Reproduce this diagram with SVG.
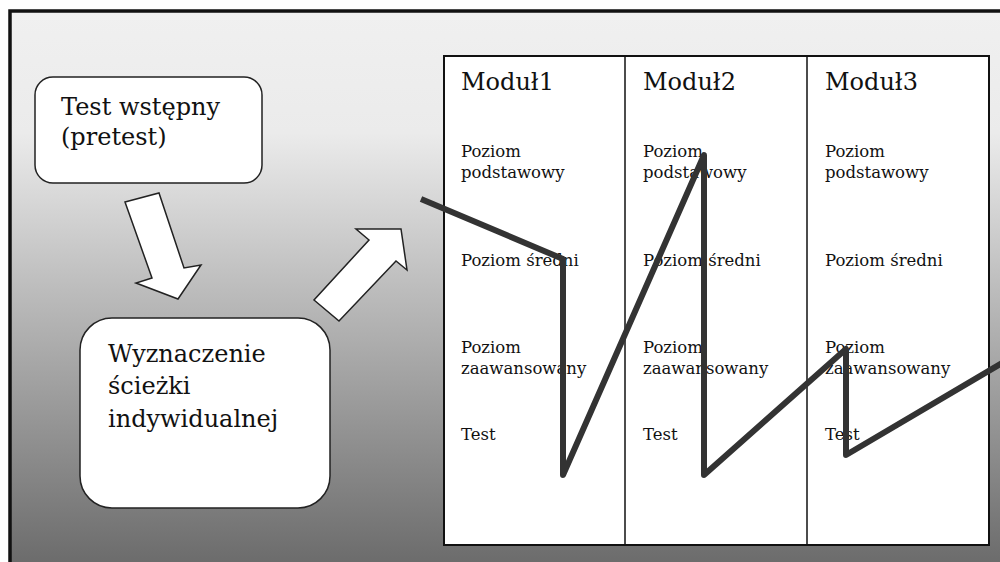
<svg xmlns="http://www.w3.org/2000/svg" width="1000" height="562" viewBox="0 0 1000 562">
<style>
.box{fill:#fff;stroke:#222;stroke-width:1.5}
.arr{fill:#fff;stroke:#222;stroke-width:1.5;stroke-linejoin:miter}
.big{font-family:"DejaVu Serif","Liberation Serif",serif;font-size:24px;fill:#111}
.sm{font-family:"DejaVu Serif","Liberation Serif",serif;font-size:16.5px;fill:#111}
.col{fill:none;stroke:#111;stroke-width:1.5}
.zig{fill:none;stroke:#333;stroke-width:6;stroke-linejoin:round;stroke-linecap:butt}
</style>
<defs>
<linearGradient id="bg" x1="0" y1="12" x2="0" y2="562" gradientUnits="userSpaceOnUse">
<stop offset="0" stop-color="#f0f0f0"/>
<stop offset="0.22" stop-color="#ebebeb"/>
<stop offset="0.5" stop-color="#bdbdbd"/>
<stop offset="1" stop-color="#6c6c6c"/>
</linearGradient>
</defs>
<rect x="0" y="0" width="1000" height="562" fill="#fff"/>
<rect x="10" y="11" width="995" height="560" fill="url(#bg)"/>
<path d="M10,562 V11 H1000" fill="none" stroke="#111" stroke-width="3.5"/>

<g id="pretest">
<rect class="box" x="35" y="77" width="227" height="106" rx="18"/>
<text class="big" x="61" y="115">Test wstępny</text>
<text class="big" x="61" y="145">(pretest)</text>
</g>

<g id="sciezka">
<rect class="box" x="80" y="318" width="250" height="190" rx="32"/>
<text class="big" x="108" y="362">Wyznaczenie</text>
<text class="big" x="108" y="394">ścieżki</text>
<text class="big" x="108" y="427">indywidualnej</text>
</g>

<g id="arrows">
<polygon class="arr" points="125,202 159,193 184,268 201,265 178,299 136,283 152,278"/>
<polygon class="arr" points="314,300 339,321 396,261 407,270 401,229 356,229 369,240"/>
</g>

<g id="table">
<rect x="444" y="56" width="545" height="489" fill="#fff" stroke="#111" stroke-width="2"/>
<line class="col" x1="625" y1="56" x2="625" y2="545"/>
<line class="col" x1="807" y1="56" x2="807" y2="545"/>
</g>

<g id="modul1">
<text class="big" x="461" y="90">Moduł1</text>
<text class="sm" x="461" y="157">Poziom</text>
<text class="sm" x="461" y="178">podstawowy</text>
<text class="sm" x="461" y="266">Poziom średni</text>
<text class="sm" x="461" y="353">Poziom</text>
<text class="sm" x="461" y="374">zaawansowany</text>
<text class="sm" x="461" y="440">Test</text>
</g>
<g id="modul2">
<text class="big" x="643" y="90">Moduł2</text>
<text class="sm" x="643" y="157">Poziom</text>
<text class="sm" x="643" y="178">podstawowy</text>
<text class="sm" x="643" y="266">Poziom średni</text>
<text class="sm" x="643" y="353">Poziom</text>
<text class="sm" x="643" y="374">zaawansowany</text>
<text class="sm" x="643" y="440">Test</text>
</g>
<g id="modul3">
<text class="big" x="825" y="90">Moduł3</text>
<text class="sm" x="825" y="157">Poziom</text>
<text class="sm" x="825" y="178">podstawowy</text>
<text class="sm" x="825" y="266">Poziom średni</text>
<text class="sm" x="825" y="353">Poziom</text>
<text class="sm" x="825" y="374">zaawansowany</text>
<text class="sm" x="825" y="440">Test</text>
</g>

<g id="connectors">
<polyline class="zig" points="421,199 563,259 563,475 704,155 704,475 846,349 846,455 1002,363"/>
</g>
</svg>
